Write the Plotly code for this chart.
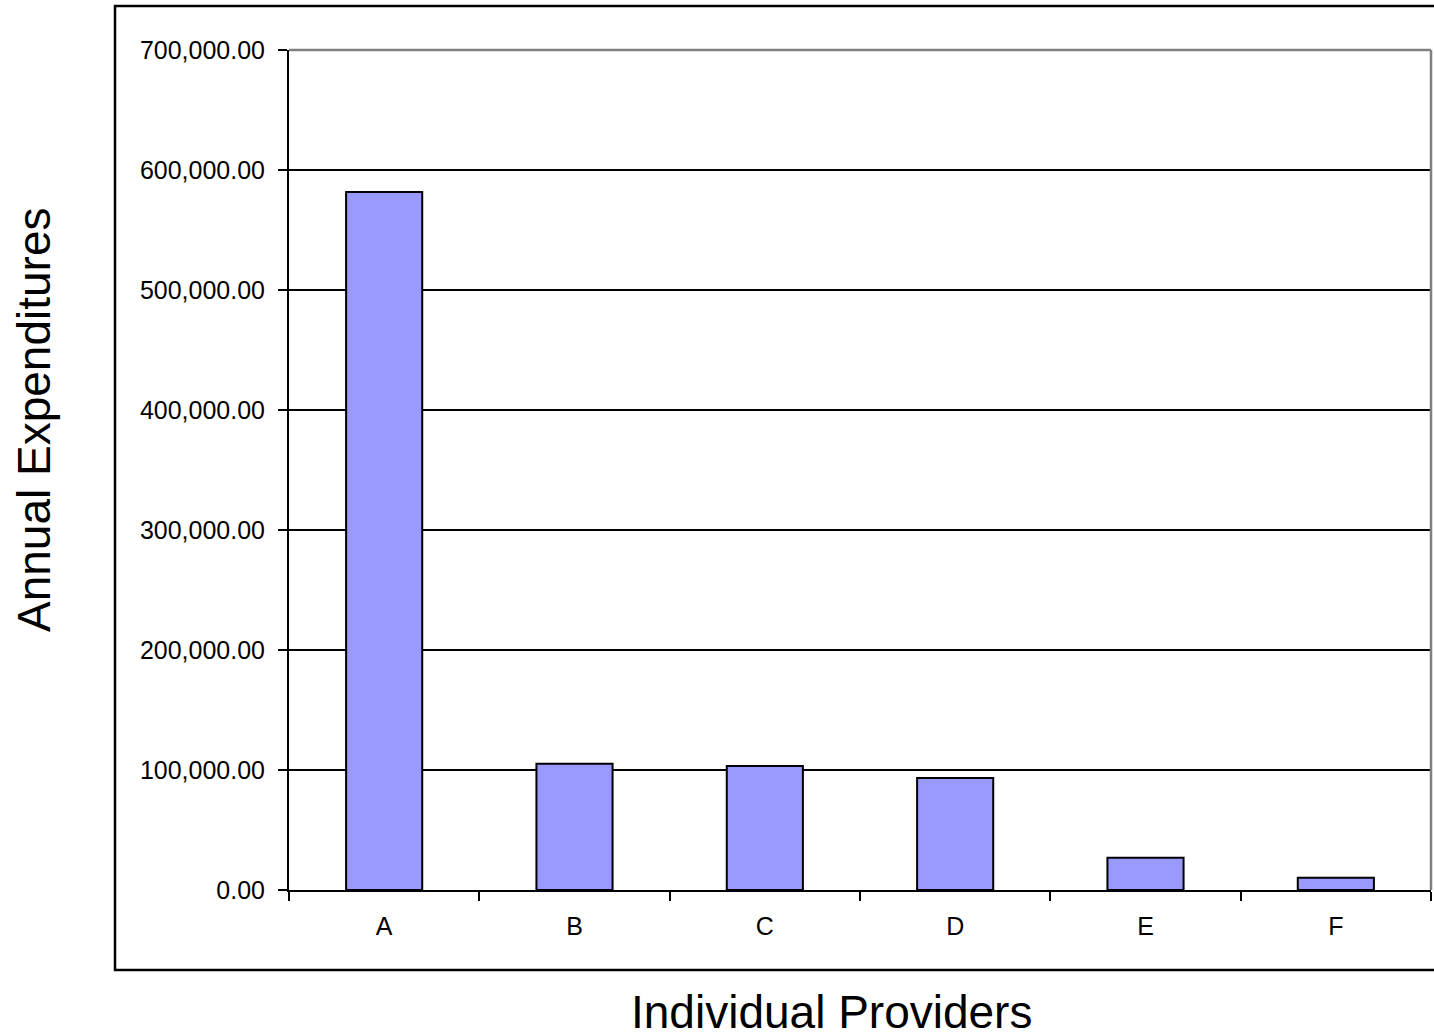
import plotly.graph_objects as go

categories = ["A", "B", "C", "D", "E", "F"]
expenditures = [581700, 105300, 103300, 93300, 26900, 10200]
y_tick_values = [0, 100000, 200000, 300000, 400000, 500000, 600000, 700000]

W, H = 1434, 1033
L, R, T, B = 289, 3, 50, 143
pw = W - L - R
ph = H - T - B

def px_x(p):
    return (p - L) / pw

def px_y(p):
    return (H - B - p) / ph

FONT = "Liberation Sans, Arial, sans-serif"

fig = go.Figure(
    go.Bar(
        x=categories,
        y=expenditures,
        marker=dict(color="#9999FF", line=dict(color="black", width=2)),
        width=0.4,
    )
)

fig.update_layout(
    width=W,
    height=H,
    margin=dict(l=L, r=R, t=T, b=B, pad=0),
    paper_bgcolor="white",
    plot_bgcolor="white",
    showlegend=False,
    font=dict(family=FONT, size=25, color="black"),
)

fig.update_xaxes(
    type="category",
    showgrid=False,
    showline=True,
    linecolor="black",
    linewidth=2,
    ticks="outside",
    tickson="boundaries",
    ticklen=9,
    tickwidth=2,
    tickcolor="black",
    ticklabelstandoff=13,
    tickfont=dict(family=FONT, size=25, color="black"),
)

fig.update_yaxes(
    range=[0, 700000],
    tickvals=y_tick_values,
    tickformat=",.2f",
    showgrid=True,
    gridcolor="black",
    gridwidth=2,
    zeroline=False,
    showline=True,
    linecolor="black",
    linewidth=2,
    ticks="outside",
    ticklen=9,
    tickwidth=2,
    tickcolor="black",
    ticklabelstandoff=8,
    tickfont=dict(family=FONT, size=25, color="black"),
)

# plot-area border (gray) on top and right
fig.add_shape(type="line", xref="paper", yref="paper", x0=0, x1=1, y0=1, y1=1,
              line=dict(color="#808080", width=2.5), layer="above")
fig.add_shape(type="line", xref="paper", yref="paper", x0=1, x1=1, y0=0, y1=1,
              line=dict(color="#808080", width=2.5), layer="above")

# outer chart-area border
fig.add_shape(type="rect", xref="paper", yref="paper",
              x0=px_x(115), x1=px_x(1460), y0=px_y(970), y1=px_y(6),
              line=dict(color="black", width=2.5), fillcolor="rgba(0,0,0,0)",
              layer="above")

fig.add_annotation(
    text="Annual Expenditures", textangle=-90,
    xref="paper", yref="paper", x=px_x(34), y=px_y(420),
    xanchor="center", yanchor="middle", showarrow=False,
    font=dict(family=FONT, size=46, color="black"),
)
fig.add_annotation(
    text="Individual Providers",
    xref="paper", yref="paper", x=px_x(831), y=px_y(1012),
    xanchor="center", yanchor="middle", showarrow=False,
    font=dict(family=FONT, size=46, color="black"),
)

fig.write_html("out.html")
